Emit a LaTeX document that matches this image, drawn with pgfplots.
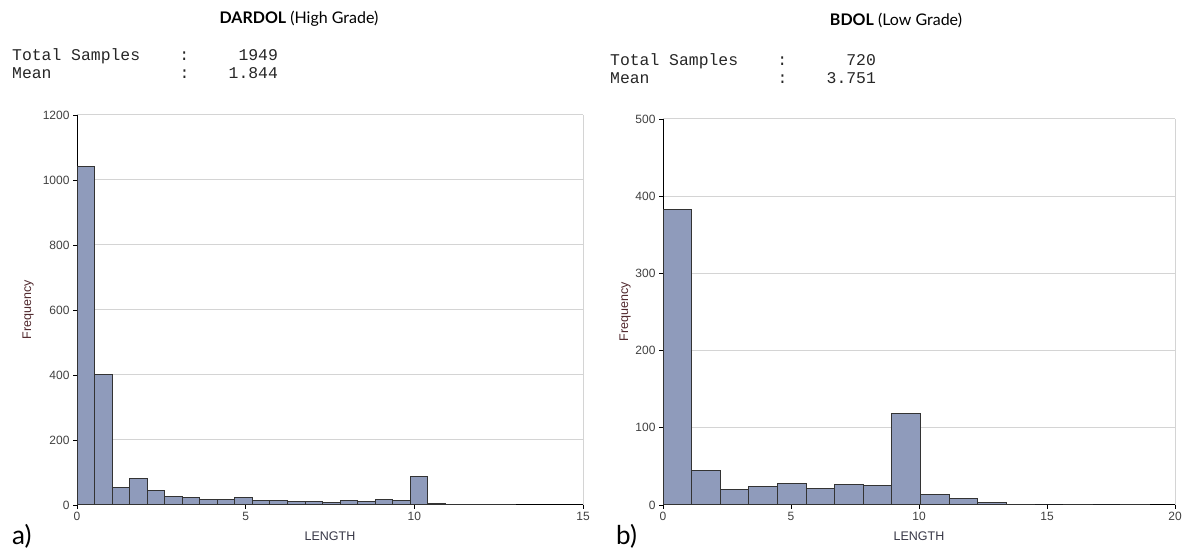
\documentclass[border=0pt]{standalone}
\usepackage{pgfplots}
\pgfplotsset{compat=1.18}
\usepackage{fontspec}
\setmainfont{Liberation Sans}
\newfontfamily\titlefont{Lato}
\newfontfamily\statfont{Liberation Mono}
\definecolor{barfill}{RGB}{143,155,187}
\definecolor{gridc}{RGB}{212,212,212}
\definecolor{tickc}{RGB}{64,64,64}
\definecolor{ylabc}{RGB}{80,40,45}
\definecolor{xlabc}{RGB}{55,55,70}
\pgfplotsset{histo/.style={
  scale only axis, anchor=south west,
  axis x line*=bottom, axis y line*=left,
  axis line style={black, line width=1pt, -},
  ymajorgrids, major grid style={gridc, line width=1pt},
  tick align=outside, major tick length=4pt,
  tick style={black, line width=0.8pt},
  ticklabel style={font=\fontsize{12}{14}\selectfont, text=tickc},
  /pgf/number format/assume math mode=true,
  /pgf/number format/1000 sep={},
  xlabel=LENGTH, ylabel=Frequency,
  xlabel style={font=\fontsize{12.5}{14}\selectfont, text=xlabc, at={(axis description cs:0.5,0)}, anchor=base, yshift=-36pt},
  after end axis/.code={\draw[gridc, line width=1pt] (rel axis cs:1,0) -- (rel axis cs:1,1);},
}}
\begin{document}
\begin{tikzpicture}
\path[use as bounding box] (0,0) rectangle (1191pt,551pt);

% ---------- left ----------
\begin{axis}[histo, at={(77pt,46pt)}, width=506pt, height=390pt,
  xmin=0, xmax=15, ymin=0, ymax=1200,
  xtick={0,5,10,15}, ytick={0,200,400,600,800,1000,1200},
  ylabel style={font=\fontsize{12.5}{14}\selectfont, text=ylabc, at={(axis description cs:-0.0968,0.5)}, anchor=center}]
\addplot[ybar interval, fill=barfill, draw=black!80, line width=1pt] coordinates {
(0,1040) (0.52,403) (1.04,54) (1.56,82) (2.08,45) (2.6,26) (3.12,24) (3.64,18)
(4.16,18) (4.68,22) (5.2,15) (5.72,14) (6.24,11) (6.76,11) (7.28,7) (7.8,14)
(8.32,11) (8.84,16) (9.36,13) (9.88,87) (10.4,4) (10.92,2) (11.44,3) (11.96,2)
(12.48,2) (13.0,0)};
\end{axis}

% ---------- right ----------
\begin{axis}[histo, at={(663pt,46pt)}, width=512pt, height=386pt,
  xmin=0, xmax=20, ymin=0, ymax=500,
  xtick={0,5,10,15,20}, ytick={0,100,200,300,400,500},
  ylabel style={font=\fontsize{12.5}{14}\selectfont, text=ylabc, at={(axis description cs:-0.0742,0.5)}, anchor=center}]
\addplot[ybar interval, fill=barfill, draw=black!80, line width=1pt] coordinates {
(0,383) (1.1176,45) (2.2353,20) (3.3529,24) (4.4706,28) (5.5882,22) (6.7059,27)
(7.8235,25) (8.9412,119) (10.0588,13) (11.1765,9) (12.2941,3) (13.4118,1)
(14.5294,0) (15.6471,1) (16.7647,0) (17.8824,1) (19.0,0)};
\end{axis}

% ---------- titles ----------
\node[anchor=base, font=\titlefont\fontsize{16}{19}\selectfont] at (299pt,527pt) {\textbf{DARDOL} (High Grade)};
\node[anchor=base, font=\titlefont\fontsize{16}{19}\selectfont] at (896pt,525pt) {\textbf{BDOL} (Low Grade)};

% ---------- stats ----------
\begin{scope}[every node/.style={anchor=base west, inner sep=0pt, text=black!85, font=\statfont\fontsize{16.4}{18}\selectfont}]
\node at (12pt,490pt) {Total~Samples~~~~:~~~~~1949};
\node at (12pt,472pt) {Mean~~~~~~~~~~~~~:~~~~1.844};
\node at (610pt,485pt) {Total~Samples~~~~:~~~~~~720};
\node at (610pt,467pt) {Mean~~~~~~~~~~~~~:~~~~3.751};
\end{scope}

% ---------- panel letters ----------
\node[anchor=base west, inner sep=0pt, font=\titlefont\fontsize{26}{30}\selectfont] at (12pt,6pt) {a)};
\node[anchor=base west, inner sep=0pt, font=\titlefont\fontsize{26}{30}\selectfont] at (616pt,6pt) {b)};
\end{tikzpicture}
\end{document}
